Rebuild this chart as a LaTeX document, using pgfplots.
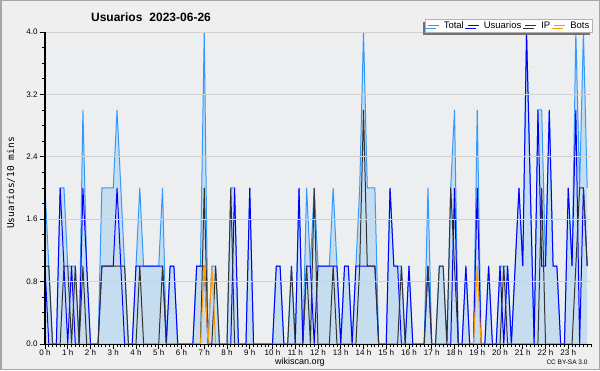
\documentclass[border=0pt]{standalone}
\usepackage{fontspec}
\setmainfont{Liberation Sans}
\newfontfamily\monofont{DejaVu Sans Mono}
\usepackage{pgfplots}
\usepackage{pgfplotstable}
\pgfplotsset{compat=1.18}
\usetikzlibrary{shadows}
\definecolor{bgc}{HTML}{EFEFEF}
\definecolor{plotbg}{HTML}{ECEEF0}
\definecolor{totline}{HTML}{3399FF}
\definecolor{totfill}{HTML}{C6DDF0}
\definecolor{usu}{HTML}{0000FF}
\definecolor{ipc}{HTML}{333333}
\definecolor{botc}{HTML}{FF9900}

\pgfplotstableread{
i tot usu ip bot
0 2 1 1 0
1 1 0 1 0
2 0 0 0 0
3 0 0 0 0
4 2 2 0 0
5 2 1 1 0
6 1 0 1 0
7 1 1 0 0
8 1 0 1 0
9 0 0 0 0
10 3 2 1 0
11 1 1 0 0
12 0 0 0 0
13 0 0 0 0
14 0 0 0 0
15 2 1 1 0
16 2 1 1 0
17 2 1 1 0
18 2 1 1 0
19 3 2 1 0
20 2 1 1 0
21 1 0 1 0
22 0 0 0 0
23 0 0 0 0
24 1 1 0 0
25 2 1 1 0
26 1 1 0 0
27 1 1 0 0
28 1 1 0 0
29 1 1 0 0
30 1 1 0 0
31 2 1 1 0
32 0 0 0 0
33 1 1 0 0
34 1 1 0 0
35 0 0 0 0
36 0 0 0 0
37 0 0 0 0
38 0 0 0 0
39 0 0 0 0
40 1 1 0 0
41 1 1 0 0
42 4 1 2 1
43 0 0 0 0
44 1 0 0 1
45 1 0 1 0
46 0 0 0 0
47 0 0 0 0
48 0 0 0 0
49 2 0 2 0
50 2 2 0 0
51 0 0 0 0
52 0 0 0 0
53 0 0 0 0
54 2 2 0 0
55 0 0 0 0
56 0 0 0 0
57 0 0 0 0
58 0 0 0 0
59 0 0 0 0
60 0 0 0 0
61 1 1 0 0
62 1 1 0 0
63 0 0 0 0
64 0 0 0 0
65 1 0 1 0
66 0 0 0 0
67 2 2 0 0
68 0 0 0 0
69 2 1 1 0
70 1 1 0 0
71 2 0 2 0
72 1 1 0 0
73 1 1 0 0
74 1 1 0 0
75 1 1 0 0
76 2 1 1 0
77 1 1 0 0
78 0 0 0 0
79 1 1 0 0
80 1 1 0 0
81 0 0 0 0
82 1 1 0 0
83 2 1 1 0
84 4 1 3 0
85 2 1 1 0
86 2 1 1 0
87 2 1 1 0
88 0 0 0 0
89 0 0 0 0
90 0 0 0 0
91 2 2 0 0
92 1 1 0 0
93 1 1 0 0
94 1 0 1 0
95 0 0 0 0
96 1 1 0 0
97 0 0 0 0
98 0 0 0 0
99 0 0 0 0
100 0 0 0 0
101 2 1 1 0
102 0 0 0 0
103 0 0 0 0
104 1 0 1 0
105 1 0 1 0
106 0 0 0 0
107 2 0 2 0
108 3 2 1 0
109 0 0 0 0
110 0 0 0 0
111 1 1 0 0
112 0 0 0 0
113 0 0 0 0
114 3 2 0 1
115 0 0 0 0
116 0 0 0 0
117 1 1 0 0
118 0 0 0 0
119 0 0 0 0
120 1 1 0 0
121 1 0 1 0
122 1 1 0 0
123 0 0 0 0
124 1 1 0 0
125 2 2 0 0
126 1 1 0 0
127 4 4 0 0
128 2 2 0 0
129 0 0 0 0
130 3 3 0 0
131 3 1 2 0
132 1 1 0 0
133 3 3 0 0
134 1 1 0 0
135 1 1 0 0
136 0 0 0 0
137 0 0 0 0
138 2 2 0 0
139 1 1 0 0
140 4 3 1 0
141 2 0 2 0
142 4 2 2 0
143 2 1 1 0
}\data

\begin{document}
\begin{tikzpicture}[x=1pt,y=1pt]
\fill[bgc] (0,0) rectangle (600,370);
\begin{axis}[
  at={(45pt,26pt)}, anchor=south west,
  scale only axis, width=546pt, height=312pt,
  xmin=0, xmax=144, ymin=0, ymax=4,
  axis lines=left,
  axis on top,
  axis line style={-, black, line width=1pt},
  axis background/.style={fill=plotbg},
  xtick={0,6,...,138},
  xticklabels={0 h,1 h,2 h,3 h,4 h,5 h,6 h,7 h,8 h,9 h,10 h,11 h,12 h,13 h,14 h,15 h,16 h,17 h,18 h,19 h,20 h,21 h,22 h,23 h},
  minor xtick={0,1,...,144},
  ytick={0,0.8,1.6,2.4,3.2,4},
  yticklabels={0.0,0.8,1.6,2.4,3.2,4.0},
  minor ytick={0,0.2,...,4.01},
  tick align=outside,
  major tick length=5pt, minor tick length=3pt,
  tick style={black, line width=0.8pt},
  ymajorgrids, major grid style={black!18, line width=0.9pt},
  xmajorgrids=false,
  tick label style={font=\fontsize{8}{9}\selectfont},
  xticklabel style={yshift=3pt},
  yticklabel style={xshift=1pt},
  /pgf/number format/assume math mode=true,
  legend columns=4,
  legend style={at={(1.004,1)}, anchor=south east, yshift=-0.5pt,
    draw=black!30, fill=white, line width=0.8pt,
    drop shadow={shadow xshift=-2.5pt, shadow yshift=-2.5pt, fill=black!55, opacity=1},
    font=\fontsize{9.5}{10}\selectfont, inner xsep=2pt, inner ysep=0.5pt,
    /tikz/every even column/.append style={column sep=2pt},
    /tikz/every odd column/.append style={column sep=3pt},
    nodes={inner sep=1.5pt}},
  legend image code/.code={\draw[#1, line width=1pt] (0pt,0pt) -- (11pt,0pt);},
]
\addplot[draw=none, fill=totfill, forget plot] table[x=i, y=tot]{\data} \closedcycle;
\addplot[totline, line width=1pt] table[x=i, y=tot]{\data};
\addlegendentry{Total}
\addplot[usu, line width=1pt] table[x=i, y=usu]{\data};
\addlegendentry{Usuarios}
\addplot[ipc, line width=1pt] table[x=i, y=ip]{\data};
\addlegendentry{IP}
\addplot[botc, line width=1pt] table[x=i, y=bot]{\data};
\addlegendentry{Bots}
\end{axis}
\node[font=\bfseries\fontsize{12}{14}\selectfont] at (151,353) {Usuarios\hspace{7pt}2023-06-26};
\node[rotate=90, font=\monofont\fontsize{9.5}{11}\selectfont] at (11,187) {Usuarios/10 mins};
\node[font=\fontsize{9}{10}\selectfont] at (300,8) {wikiscan.org};
\node[anchor=east, font=\fontsize{6.5}{7}\selectfont] at (591,7.5) {CC BY-SA 3.0};
\draw[black!35, line width=1.5pt] (0.75,0.75) rectangle (599.25,369.25);
\pgfresetboundingbox
\path[use as bounding box] (0,0) rectangle (600,370);
\end{tikzpicture}
\end{document}
